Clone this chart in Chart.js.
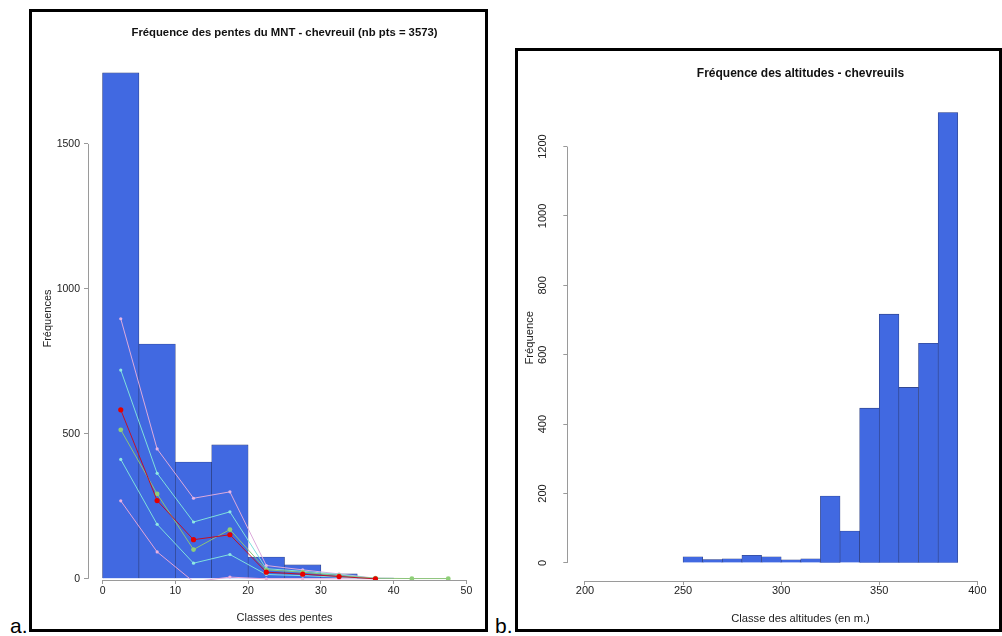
<!DOCTYPE html>
<html><head><meta charset="utf-8">
<script src="https://cdn.jsdelivr.net/npm/chart.js@4.4.1/dist/chart.umd.min.js"></script>
<style>
html,body{margin:0;padding:0;width:1002px;height:636px;overflow:hidden;background:#fff;}
.box{position:absolute;border:3px solid #000;box-sizing:border-box;overflow:hidden;background:#fff;}
#boxA{left:29px;top:9px;width:459px;height:623px;}
#boxB{left:515px;top:48px;width:487px;height:584px;}
.box canvas{position:absolute;left:0;top:0;}
.lbl{position:absolute;font-family:"Liberation Sans",Arial,sans-serif;font-size:21px;line-height:21px;color:#000;}
</style></head>
<body>
<div class="lbl" style="left:10px;top:614.7px;">a.</div>
<div class="lbl" style="left:495px;top:614.7px;">b.</div>
<div class="box" id="boxA"><canvas id="cA" width="453" height="617"></canvas></div>
<div class="box" id="boxB"><canvas id="cB" width="564" height="578"></canvas></div>
<script>
// ---- Chart a : fréquence des pentes ----
const penteCentres = [2.5, 7.5, 12.5, 17.5, 22.5, 27.5, 32.5, 37.5, 42.5, 47.5];
const penteEffectifs = [1745, 810, 403, 462, 75, 48, 17, 3, 0, 0];
const courbeRoseHaute = [897, 448, 278, 300, 46, 31, 17, 2];
const courbeCyanHaute = [720, 364, 196, 231, 35, 26, 15, 1];
const courbeRouge = [583, 270, 135, 152, 23, 16, 8, 0];
const courbeVerte = [514, 293, 101, 170, 31, 23, 11, 2, 1, 1];
const courbeCyanBasse = [412, 188, 54, 84, 15, 11, 6, 0];
const courbeRoseBasse = [269, 93, -10, 6, 0, 0, 0, 0];
const penteTicksX = [0, 10, 20, 30, 40, 50];
const penteTicksY = [0, 500, 1000, 1500];

// ---- Chart b : fréquence des altitudes ----
const altCentres = [255, 265, 275, 285, 295, 305, 315, 325, 335, 345, 355, 365, 375, 385];
const altEffectifs = [18, 10, 12, 22, 18, 9, 12, 193, 92, 446, 717, 506, 633, 1298];
const altTicksX = [200, 250, 300, 350, 400];
const altTicksY = [0, 200, 400, 600, 800, 1000, 1200];

const F = '"Liberation Sans", Arial, sans-serif';
Chart.defaults.font.family = F;

function pts(xs, ys) { return ys.map((y, i) => ({ x: xs[i], y: y })); }
function setTicks(list) { return s => { s.ticks = list.map(v => ({ value: v })); }; }

// R-style axis lines: drawn only from first to last tick
const rAxisLine = {
  id: 'rAxisLine',
  afterDraw(chart) {
    const ctx = chart.ctx, xs = chart.scales.x, ys = chart.scales.y, a = chart.chartArea;
    ctx.save();
    ctx.strokeStyle = '#9a9a9a';
    ctx.lineWidth = 1;
    ctx.beginPath();
    const yb = Math.round(a.bottom - 0.5) + 0.5;
    ctx.moveTo(xs.getPixelForValue(xs.ticks[0].value), yb);
    ctx.lineTo(xs.getPixelForValue(xs.ticks[xs.ticks.length - 1].value), yb);
    const xl = Math.round(a.left - 0.5) + 0.5;
    ctx.moveTo(xl, ys.getPixelForValue(ys.ticks[0].value));
    ctx.lineTo(xl, ys.getPixelForValue(ys.ticks[ys.ticks.length - 1].value));
    ctx.stroke();
    ctx.restore();
  }
};

const gridR = { offset: false, drawOnChartArea: false, drawTicks: true, tickLength: 4, color: '#9a9a9a', lineWidth: 1 };

function lineSet(label, ys, line, pt, r, order) {
  return { type: 'line', label: label, data: pts(penteCentres, ys), borderColor: line, borderWidth: 1,
    pointBackgroundColor: pt, pointBorderWidth: 0, pointRadius: r, tension: 0, order: order, fill: false };
}

new Chart(document.getElementById('cA'), {
  type: 'bar',
  data: {
    datasets: [
      lineSet('rouge', courbeRouge, '#c0102a', '#e60000', 2.6, 1),
      lineSet('vert', courbeVerte, '#8cc47a', '#8fcf78', 2.4, 2),
      lineSet('cyan haut', courbeCyanHaute, '#7fe0dc', '#8fe8e4', 1.6, 3),
      lineSet('rose haut', courbeRoseHaute, '#dcaadc', '#e6b4e6', 1.6, 3),
      lineSet('cyan bas', courbeCyanBasse, '#7fe0dc', '#8fe8e4', 1.6, 3),
      lineSet('rose bas', courbeRoseBasse, '#e4a6d8', '#eab0e0', 1.6, 3),
      { type: 'bar', label: 'pentes', data: pts(penteCentres, penteEffectifs).filter(p => p.y > 0),
        backgroundColor: '#4169e1', borderColor: '#2d3c78', borderWidth: 0.6,
        barPercentage: 1, categoryPercentage: 1, order: 10 }
    ]
  },
  options: {
    responsive: false, animation: false, events: [],
    layout: { padding: 0 },
    plugins: {
      legend: { display: false }, tooltip: { enabled: false },
      title: { display: true, text: 'Fréquence des pentes du MNT - chevreuil (nb pts = 3573)', fullSize: false,
        color: '#111', font: { family: F, size: 11.3, weight: 'bold', lineHeight: 1.2 }, padding: { top: 14.2, bottom: 17.2 } }
    },
    scales: {
      x: { type: 'linear', offset: false, min: -2, max: 52, afterBuildTicks: setTicks(penteTicksX), afterFit: s => { s.height = 49; },
        grid: gridR, border: { display: false },
        ticks: { color: '#222', font: { family: F, size: 10.5, lineHeight: 1 }, padding: 1.5, maxRotation: 0, autoSkip: false, callback: v => String(v) },
        title: { display: true, text: 'Classes des pentes', color: '#222', font: { family: F, size: 11, lineHeight: 1.2 }, padding: { top: 0, bottom: 4 } } },
      y: { type: 'linear', offset: false, min: -4, max: 1800, afterBuildTicks: setTicks(penteTicksY), afterFit: s => { s.width = 56; },
        grid: gridR, border: { display: false },
        ticks: { color: '#222', font: { family: F, size: 10.5 }, padding: 4, autoSkip: false, callback: v => String(v) },
        title: { display: true, text: 'Fréquences', color: '#222', font: { family: F, size: 11, lineHeight: 1.2 }, padding: { top: 9.4, bottom: 0 } } }
    }
  },
  plugins: [rAxisLine]
});

new Chart(document.getElementById('cB'), {
  type: 'bar',
  data: {
    datasets: [
      { type: 'bar', label: 'altitudes', data: pts(altCentres, altEffectifs),
        backgroundColor: '#4169e1', borderColor: '#2d3c78', borderWidth: 0.6,
        barPercentage: 1, categoryPercentage: 1 }
    ]
  },
  options: {
    responsive: false, animation: false, events: [],
    layout: { padding: { left: 0, top: 0, bottom: 0, right: 48.3 } },
    plugins: {
      legend: { display: false }, tooltip: { enabled: false },
      title: { display: true, text: 'Fréquence des altitudes - chevreuils', fullSize: false,
        color: '#111', font: { family: F, size: 12, weight: 'bold', lineHeight: 1.2 }, padding: { top: 15.6, bottom: 13.5 } }
    },
    scales: {
      x: { type: 'linear', offset: false, min: 191, max: 428.7, afterBuildTicks: setTicks(altTicksX), afterFit: s => { s.height = 48; },
        grid: gridR, border: { display: false },
        ticks: { color: '#222', font: { family: F, size: 11, lineHeight: 1 }, padding: 0.5, maxRotation: 0, autoSkip: false, callback: v => String(v) },
        title: { display: true, text: 'Classe des altitudes (en m.)', color: '#222', font: { family: F, size: 11.2, lineHeight: 1.2 }, padding: { top: 0, bottom: 3.3 } } },
      y: { type: 'linear', offset: false, min: -52, max: 1350, afterBuildTicks: setTicks(altTicksY), afterFit: s => { s.width = 49.3; },
        grid: gridR, border: { display: false },
        ticks: { color: '#222', font: { family: F, size: 11 }, padding: 8, minRotation: 90, maxRotation: 90, crossAlign: 'center', autoSkip: false, callback: v => String(v) },
        title: { display: true, text: 'Fréquence', color: '#222', font: { family: F, size: 11.2, lineHeight: 1.2 }, padding: { top: 5.3, bottom: 0 } } }
    }
  },
  plugins: [rAxisLine]
});
</script>
</body></html>
